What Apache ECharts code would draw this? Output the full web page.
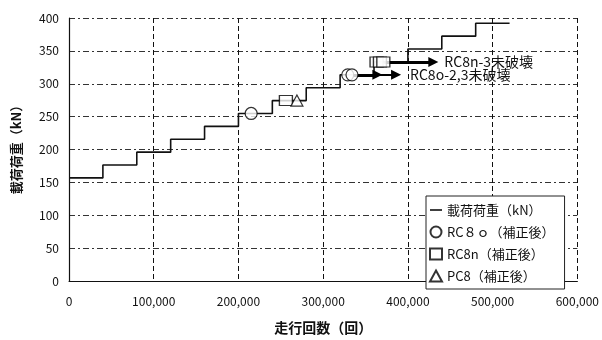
<!DOCTYPE html>
<html>
<head>
<meta charset="utf-8">
<script src="https://cdn.jsdelivr.net/npm/echarts@6/dist/echarts.min.js"></script>
<style>
  html, body { margin: 0; padding: 0; background: #fff; }
  #chart { width: 602px; height: 340px; }
</style>
</head>
<body>
<div id="chart"></div>
<script>
// Running cycles (start of each load step) and load level of that step (kN)
var cycles = [0, 40000, 80000, 120000, 160000, 200000, 240000, 280000, 320000, 360000, 400000, 440000, 480000, 520000];
var loads  = [156.8, 176.4, 196, 215.6, 235.2, 254.8, 274.4, 294, 313.6, 333.2, 352.8, 372.4, 392, 392];

// Failure points (corrected), [cycles, load]
var rc8o = [[215000, 254.8], [329000, 313.6], [334000, 313.6]];
var rc8n = [[256000, 274.4], [363000, 333.2], [367000, 333.2], [371000, 333.2]];
var pc8  = [[269000, 274.4]];

// Arrows for specimens that did not fail
var arrowRC8n3   = [[372000, 333.2], [430000, 333.2]];
var arrowRC8o2   = [[336000, 313.6], [364000, 313.6]];
var arrowRC8o3   = [[336000, 313.6], [386000, 313.6]];
var arrowLabelN  = 'RC8n-3未破壊';
var arrowLabelO  = 'RC8o-2,3未破壊';

// Axis tick settings
var xMax = 600000, xStep = 100000;
var yMax = 400, yStep = 50;

var names = ['載荷荷重（kN）', 'RC８ｏ（補正後）', 'RC8n（補正後）', 'PC8（補正後）'];

var FONT = '"Noto Sans CJK JP", "Noto Sans", sans-serif';

var stepData = cycles.map(function (c, i) { return [c, loads[i]]; });

var chart = echarts.init(document.getElementById('chart'), null, { renderer: 'canvas' });

var markerStyle = { color: '#fff', borderColor: '#000', borderWidth: 1.2 };

chart.setOption({
  animation: false,
  backgroundColor: '#fff',
  textStyle: { fontFamily: FONT },
  grid: { left: 69, right: 24, top: 18, bottom: 52, containLabel: false },
  xAxis: {
    type: 'value', min: 0, max: xMax, interval: xStep,
    axisLine: { show: true, lineStyle: { color: '#111', width: 1 } },
    axisTick: { show: false },
    axisLabel: {
      color: '#111', fontSize: 12, fontFamily: FONT, margin: 14,
      formatter: function (v) { return v.toLocaleString('en-US'); }
    },
    splitLine: { show: true, lineStyle: { color: '#111', width: 1, type: [5, 3] } },
    name: '走行回数（回）', nameLocation: 'middle', nameGap: 40,
    nameTextStyle: { fontSize: 14, fontWeight: 'bold', color: '#111', fontFamily: FONT }
  },
  yAxis: {
    type: 'value', min: 0, max: yMax, interval: yStep,
    axisLine: { show: true, lineStyle: { color: '#111', width: 1.2 } },
    axisTick: { show: false },
    axisLabel: { color: '#111', fontSize: 12, fontFamily: FONT, margin: 10 },
    splitLine: { show: true, lineStyle: { color: '#333', width: 1, type: [6, 3, 2, 3] } },
    name: '載荷荷重（kN）', nameLocation: 'middle', nameGap: 46, nameRotate: 90,
    nameTextStyle: { fontSize: 13, fontWeight: 'bold', color: '#111', fontFamily: FONT, padding: [0, 0, 0, 6] }
  },
  legend: {
    orient: 'vertical', left: 426, top: 196,
    padding: [6, 10, 5, 3],
    itemGap: 6, itemWidth: 12, itemHeight: 11,
    backgroundColor: '#fff', borderColor: '#222', borderWidth: 1,
    textStyle: { fontSize: 13, lineHeight: 16, color: '#111', fontFamily: FONT },
    data: [
      { name: names[0], icon: 'path://M0,0H12V1.6H0Z' },
      { name: names[1], icon: 'circle' },
      { name: names[2], icon: 'rect' },
      { name: names[3], icon: 'triangle' }
    ]
  },
  series: [
    {
      name: names[0], type: 'line', step: 'end', data: stepData,
      symbol: 'none', showSymbol: false,
      lineStyle: { color: '#111', width: 1.6 },
      itemStyle: { color: '#111' },
      z: 3
    },
    {
      type: 'lines', coordinateSystem: 'cartesian2d', polyline: false,
      symbol: ['none', 'triangle'], symbolSize: 10,
      lineStyle: { color: '#000', width: 3, opacity: 1, curveness: 0 },
      label: {
        show: true, position: 'end', distance: 11,
        color: '#111', fontSize: 14, fontFamily: FONT
      },
      data: [
        { coords: arrowRC8n3, label: { formatter: arrowLabelN } },
        { coords: arrowRC8o2, label: { show: false } },
        { coords: arrowRC8o3, lineStyle: { width: 2 }, label: { formatter: arrowLabelO, distance: 14 } }
      ],
      z: 4
    },
    {
      name: names[1], type: 'scatter', data: rc8o, symbol: 'circle', symbolSize: 12,
      itemStyle: markerStyle, z: 5
    },
    {
      name: names[2], type: 'scatter', data: rc8n, symbol: 'rect', symbolSize: [13, 10],
      itemStyle: markerStyle, z: 5
    },
    {
      name: names[3], type: 'scatter', data: pc8, symbol: 'triangle', symbolSize: [12, 11],
      itemStyle: markerStyle, z: 5
    }
  ]
});
</script>
</body>
</html>
